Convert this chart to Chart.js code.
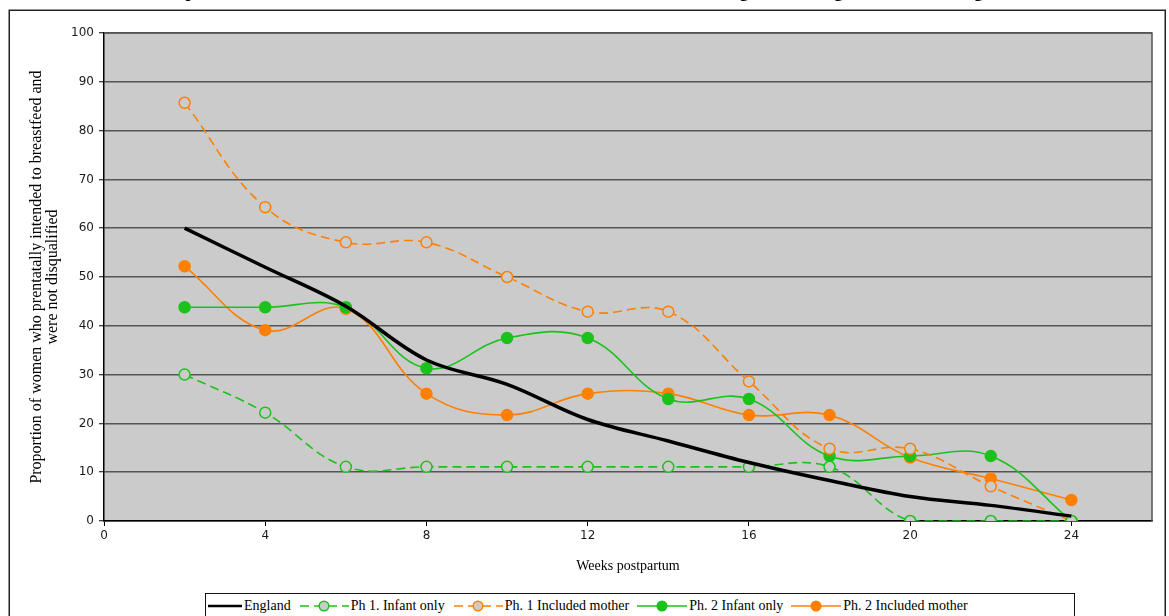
<!DOCTYPE html>
<html>
<head>
<meta charset="utf-8">
<script src="https://cdn.jsdelivr.net/npm/chart.js@4/dist/chart.umd.min.js"></script>
<style>
  html, body { margin: 0; padding: 0; background: #fff; overflow: hidden; }
  #wrap { position: relative; width: 1169px; height: 616px; overflow: hidden; }
  #chart { position: absolute; left: 0; top: 0; }
  #title {
    position: absolute; left: 10px; width: 1155px; top: -19px; line-height: 20px;
    text-align: center; font: bold 18px "Liberation Serif", "Times New Roman", serif; color: #000;
    white-space: nowrap;
  }
  #legend {
    position: absolute; left: 205px; top: 593px; width: 870px; height: 26px;
    border: 1px solid #111; box-sizing: border-box; background: #fff;
    display: flex; align-items: center; padding-left: 2px;
    font: 14px "Liberation Serif", "Times New Roman", serif; color: #000;
  }
  .item { display: flex; align-items: center; margin-right: 8px; white-space: nowrap; }
  .item svg { display: block; margin-right: 2px; }
</style>
</head>
<body>
<div id="wrap">
  <canvas id="chart" width="1169" height="616"></canvas>
  <div id="title">Proportion of women who intended to breastfeed and were still breastfeeding at each stage versus all of England</div>
  <div id="legend"></div>
</div>
<script>
// weeks postpartum
const weeks = [2, 4, 6, 8, 10, 12, 14, 16, 18, 20, 22, 24];

// percentages per series
const england        = [60, 52, 44, 33, 28, 20.8, 16.4, 12, 8.3, 5, 3.2, 1];
const ph1InfantOnly  = [30, 22.2, 11.1, 11.1, 11.1, 11.1, 11.1, 11.1, 11.1, 0, 0, 0];
const ph1InclMother  = [85.7, 64.3, 57.1, 57.1, 50, 42.9, 42.9, 28.6, 14.8, 14.8, 7.1, 0];
const ph2InfantOnly  = [43.8, 43.8, 43.8, 31.3, 37.5, 37.5, 25, 25, 13.3, 13.3, 13.3, 0];
const ph2InclMother  = [52.2, 39.1, 43.5, 26.1, 21.7, 26.1, 26.1, 21.7, 21.7, 13, 8.7, 4.3];

const seriesNames = ["England", "Ph 1. Infant only", "Ph. 1 Included mother", "Ph. 2 Infant only", "Ph. 2 Included mother"];

const GREEN = "#1cc21c";
const ORANGE = "#ff8000";
const PLOT_BG = "#cbcbcb";

const toPoints = vals => weeks.map((w, i) => ({ x: w, y: vals[i] }));

// grey plot background + thin frame on the right/top
const plotArea = {
  id: "plotArea",
  beforeDraw(chart) {
    const { ctx, chartArea: a } = chart;
    ctx.save();
    ctx.fillStyle = "#fff";
    ctx.fillRect(0, 0, chart.width, chart.height);
    ctx.strokeStyle = "#222";
    ctx.lineWidth = 1.5;
    ctx.strokeRect(9.25, 10.25, 1156, 640);
    ctx.fillStyle = PLOT_BG;
    ctx.fillRect(a.left, a.top, a.right - a.left, a.bottom - a.top);
    ctx.restore();
  },
  beforeDatasetsDraw(chart) {
    const { ctx, chartArea: a } = chart;
    ctx.save();
    ctx.strokeStyle = "#555";
    ctx.lineWidth = 1.5;
    ctx.beginPath();
    ctx.moveTo(a.left, a.top);
    ctx.lineTo(a.right, a.top);
    ctx.lineTo(a.right, a.bottom);
    ctx.stroke();
    ctx.restore();
  }
};

function lineSet(label, data, color, opts) {
  return Object.assign({
    label,
    data: toPoints(data),
    borderColor: color,
    backgroundColor: color,
    borderWidth: 1.6,
    tension: 0.4,
    pointRadius: 5.5,
    pointHoverRadius: 5.5,
    pointBorderWidth: 1.5,
    pointBorderColor: color,
    pointBackgroundColor: color,
  }, opts);
}

const datasets = [
  lineSet(seriesNames[0], england, "#000", { borderWidth: 3.5, pointRadius: 0, tension: 0.35 }),
  lineSet(seriesNames[1], ph1InfantOnly, GREEN, { borderDash: [9, 5], pointBackgroundColor: PLOT_BG }),
  lineSet(seriesNames[2], ph1InclMother, ORANGE, { borderDash: [9, 5], pointBackgroundColor: PLOT_BG }),
  lineSet(seriesNames[3], ph2InfantOnly, GREEN, {}),
  lineSet(seriesNames[4], ph2InclMother, ORANGE, {}),
];

const tickFont = { family: "'DejaVu Sans', Verdana, sans-serif", size: 12 };
const serif = "'Liberation Serif', 'Times New Roman', serif";

new Chart(document.getElementById("chart"), {
  type: "line",
  data: { datasets },
  plugins: [plotArea],
  options: {
    responsive: false,
    animation: false,
    events: [],
    layout: { padding: { left: 25, right: 17, top: 33, bottom: 38 } },
    plugins: { legend: { display: false }, tooltip: { enabled: false } },
    scales: {
      x: {
        type: "linear",
        min: 0, max: 26,
        ticks: { stepSize: 4, includeBounds: false, font: tickFont, color: "#1a1a1a", padding: 3, maxRotation: 0 },
        grid: { drawOnChartArea: false, tickLength: 5, tickColor: "#000", tickWidth: 1 },
        border: { color: "#000", width: 1.5 },
        title: { display: true, text: "Weeks postpartum", font: { family: serif, size: 14, lineHeight: 1.15 }, color: "#000", padding: { top: 4, bottom: 4 } },
        afterFit(scale) { scale.height = 57; }
      },
      y: {
        min: 0, max: 100,
        ticks: { stepSize: 10, font: tickFont, color: "#1a1a1a", padding: 5 },
        grid: { color: "#555", lineWidth: 1.5, tickLength: 5, tickColor: "#000", tickWidth: 1 },
        border: { color: "#000", width: 1.5 },
        title: {
          display: true,
          text: ["Proportion of women who prentatally intended to breastfeed and", "were not disqualified"],
          font: { family: serif, size: 16, lineHeight: 1.0 }, color: "#000", padding: { top: 4, bottom: 4 }
        },
        afterFit(scale) { scale.width = 79; }
      }
    }
  }
});

// legend row: line sample with marker, then the series name
const legendEl = document.getElementById("legend");
datasets.forEach((ds, i) => {
  const w = i === 0 ? 34 : 50;
  const dash = ds.borderDash ? `stroke-dasharray="${ds.borderDash.join(",")}"` : "";
  let marker = "";
  if (ds.pointRadius > 0) {
    marker = `<circle cx="${w / 2}" cy="8" r="4.8" fill="${ds.pointBackgroundColor}" stroke="${ds.borderColor}" stroke-width="1.5"/>`;
  }
  const dashX = ds.borderDash ? 1 : 0;
  const item = document.createElement("div");
  item.className = "item";
  item.innerHTML =
    `<svg width="${w}" height="16"><line x1="${dashX}" y1="8" x2="${w}" y2="8" stroke="${ds.borderColor}" stroke-width="${i === 0 ? 2.5 : 1.6}" ${dash}/>${marker}</svg>` +
    `<span>${ds.label}</span>`;
  legendEl.appendChild(item);
});
</script>
</body>
</html>
